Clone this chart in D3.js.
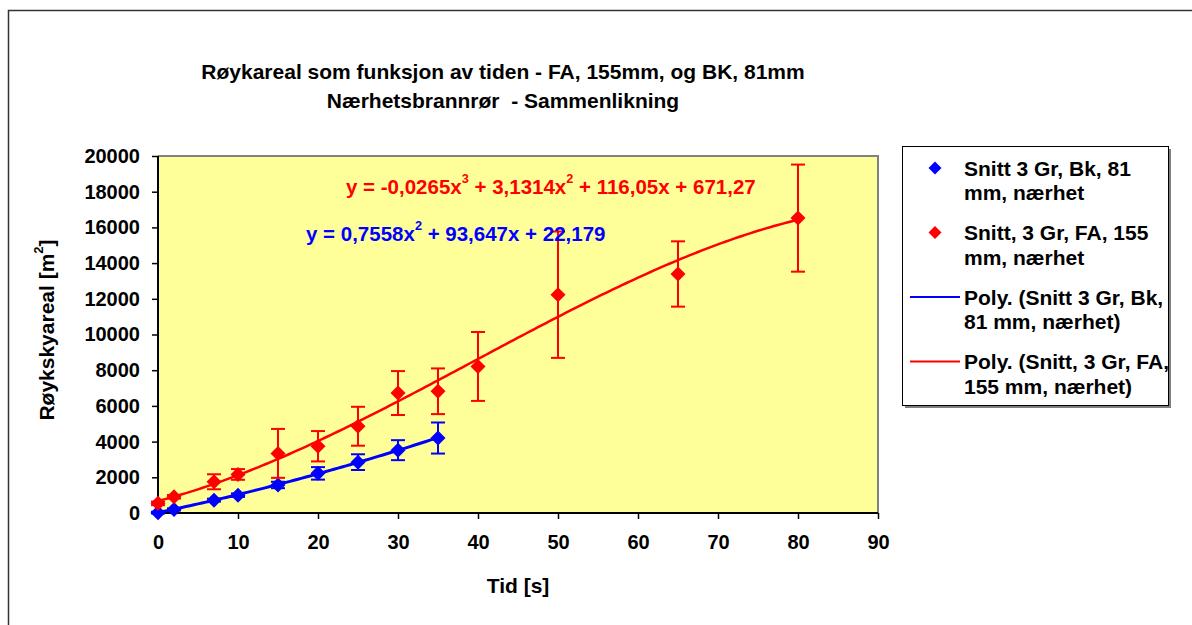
<!DOCTYPE html>
<html>
<head>
<meta charset="utf-8">
<script src="https://cdn.jsdelivr.net/npm/d3@7"></script>
<style>
  html, body { margin: 0; padding: 0; background: #fff; }
  svg { display: block; font-family: "Liberation Sans", Arial, sans-serif; font-weight: bold; }
</style>
</head>
<body>
<svg id="chart" width="1192" height="625"></svg>
<script>
// Time axis samples [s] and mean smoke area [m²] with spread, BK 81 mm
const timeBk = [0, 2, 7, 10, 15, 20, 25, 30, 35];
const areaBk = [20, 200, 720, 1000, 1570, 2220, 2850, 3520, 4200];
const errBk  = [50, 60, 80, 100, 180, 350, 440, 560, 870];

// FA 155 mm
const timeFa = [0, 2, 7, 10, 15, 20, 25, 30, 35, 40, 50, 65, 80];
const areaFa = [540, 910, 1750, 2160, 3340, 3740, 4860, 6720, 6820, 8210, 12230, 13390, 16520];
const errFa  = [100, 100, 420, 300, 1370, 850, 1090, 1230, 1280, 1930, 3540, 1830, 3000];

// Polynomial trend coefficients, ascending powers (c0 + c1 x + c2 x² + c3 x³)
const fitBk = [22.179, 93.647, 0.7558];
const fitFa = [671.27, 116.05, 3.1314, -0.0265];

const xTicks = [0, 10, 20, 30, 40, 50, 60, 70, 80, 90];
const yTicks = [0, 2000, 4000, 6000, 8000, 10000, 12000, 14000, 16000, 18000, 20000];

const titleLines = ["Røykareal som funksjon av tiden - FA, 155mm, og BK, 81mm",
                    "Nærhetsbrannrør  - Sammenlikning"];
const legendLabels = [
  ["Snitt 3 Gr, Bk, 81", "mm, nærhet"],
  ["Snitt, 3 Gr, FA, 155", "mm, nærhet"],
  ["Poly. (Snitt 3 Gr, Bk,", "81 mm, nærhet)"],
  ["Poly. (Snitt, 3 Gr, FA,", "155 mm, nærhet)"]
];

const BLUE = "#0000FF", RED = "#FF0000";
const FS = 21, FS_TICK = 20, FS_EQ = 20.5;

const svg = d3.select("#chart");

// chart frame
svg.append("path").attr("d", "M8.5,630V10.5H1200")
  .attr("fill", "none").attr("stroke", "#333").attr("stroke-width", 1.5);

const x = d3.scaleLinear().domain([0, 90]).range([158, 878]);
const y = d3.scaleLinear().domain([0, 20000]).range([513, 156]);

// plot area
svg.append("rect")
  .attr("x", x(0)).attr("y", y(20000))
  .attr("width", x(90) - x(0)).attr("height", y(0) - y(20000))
  .attr("fill", "#FFFF99");
svg.append("path")
  .attr("d", `M${x(0)},${y(20000)}H${x(90)}V${y(0)}`)
  .attr("fill", "none").attr("stroke", "#808080").attr("stroke-width", 2);

// axes
const yAxis = svg.append("g").attr("transform", `translate(${x(0)},0)`)
  .call(d3.axisLeft(y).tickValues(yTicks).tickSize(6).tickPadding(12).tickFormat(d => String(d)));
const xAxis = svg.append("g").attr("transform", `translate(0,${y(0)})`)
  .call(d3.axisBottom(x).tickValues(xTicks).tickSize(6).tickPadding(16).tickFormat(d => String(d)));
[yAxis, xAxis].forEach(g => {
  g.select(".domain").attr("stroke", "#000").attr("stroke-width", 2);
  g.selectAll(".tick line").attr("stroke", "#000").attr("stroke-width", 1.5);
  g.selectAll(".tick text").attr("fill", "#000").attr("font-size", FS_TICK)
    .attr("font-family", "Liberation Sans, Arial, sans-serif").attr("font-weight", "bold");
});
yAxis.select(".domain").attr("d", `M0,${y(0)}V${y(20000)}`);
xAxis.select(".domain").attr("d", `M${x(0)},0H${x(90)}`);

// axis titles
svg.append("text").attr("x", 518).attr("y", 585).attr("text-anchor", "middle")
  .attr("dominant-baseline", "central").attr("font-size", FS).text("Tid [s]");
const yt = svg.append("text")
  .attr("transform", "translate(46,330) rotate(-90)")
  .attr("text-anchor", "middle").attr("dominant-baseline", "central").attr("font-size", FS);
yt.append("tspan").text("Røykskyareal [m");
yt.append("tspan").attr("font-size", FS * 0.62).attr("dy", -8).text("2");
yt.append("tspan").attr("dy", 8).text("]");

// title
svg.selectAll("text.title").data(titleLines).join("text")
  .attr("class", "title")
  .attr("x", 503).attr("y", (d, i) => 71 + i * 29)
  .attr("text-anchor", "middle").attr("dominant-baseline", "central")
  .attr("font-size", FS).style("white-space", "pre")
  .text(d => d);

// polynomial trendlines
const poly = c => t => c.reduce((s, k, i) => s + k * Math.pow(t, i), 0);
const line = d3.line().x(d => x(d[0])).y(d => y(d[1]));
function trend(coef, t0, t1, color, w) {
  const f = poly(coef);
  const pts = d3.range(t0, t1 + 0.001, 0.5).map(t => [t, f(t)]);
  svg.append("path").attr("d", line(pts)).attr("fill", "none")
    .attr("stroke", color).attr("stroke-width", w);
}

const diamond = r => `M0,${-r}L${r},0L0,${r}L${-r},0Z`;

function series(ts, vs, es, color) {
  const g = svg.append("g");
  const rows = ts.map((t, i) => ({ t, v: vs[i], e: es[i] }));
  const eb = g.selectAll("g.eb").data(rows).join("g").attr("class", "eb")
    .attr("stroke", color).attr("stroke-width", 2);
  eb.append("line").attr("x1", d => x(d.t)).attr("x2", d => x(d.t))
    .attr("y1", d => y(d.v + d.e)).attr("y2", d => y(d.v - d.e));
  eb.append("line").attr("x1", d => x(d.t) - 7).attr("x2", d => x(d.t) + 7)
    .attr("y1", d => y(d.v + d.e)).attr("y2", d => y(d.v + d.e));
  eb.append("line").attr("x1", d => x(d.t) - 7).attr("x2", d => x(d.t) + 7)
    .attr("y1", d => y(d.v - d.e)).attr("y2", d => y(d.v - d.e));
  g.selectAll("path.m").data(rows).join("path").attr("class", "m")
    .attr("d", diamond(7.5)).attr("fill", color)
    .attr("transform", d => `translate(${x(d.t)},${y(d.v)})`);
}

series(timeBk, areaBk, errBk, BLUE);
series(timeFa, areaFa, errFa, RED);
trend(fitBk, 0, d3.max(timeBk), BLUE, 3);
trend(fitFa, 0, d3.max(timeFa), RED, 2.5);

// trend equations: plain strings and {exp: "n"} superscript parts
function equation(xp, yp, color, parts) {
  const t = svg.append("text").attr("x", xp).attr("y", yp).attr("fill", color)
    .attr("font-size", FS_EQ).attr("dominant-baseline", "central").style("white-space", "pre");
  let shift = 0;
  parts.forEach(p => {
    if (typeof p === "object") {
      t.append("tspan").attr("font-size", FS_EQ * 0.62).attr("dy", -8 - shift).text(p.exp);
      shift = -8;
    } else {
      t.append("tspan").attr("dy", -shift).text(p);
      shift = 0;
    }
  });
}
const fmt = v => String(v).replace(".", ",");
equation(346, 186, RED, [`y = ${fmt(fitFa[3])}x`, { exp: "3" }, ` + ${fmt(fitFa[2])}x`, { exp: "2" },
  ` + ${fmt(fitFa[1])}x + ${fmt(fitFa[0])}`]);
equation(306, 233, BLUE, [`y = ${fmt(fitBk[2])}x`, { exp: "2" }, ` + ${fmt(fitBk[1])}x + ${fmt(fitBk[0])}`]);

// legend
const lg = svg.append("g");
lg.append("rect").attr("x", 905).attr("y", 149).attr("width", 266).attr("height", 259).attr("fill", "#808080");
lg.append("rect").attr("x", 902.5).attr("y", 146.5).attr("width", 266).attr("height", 259)
  .attr("fill", "#fff").attr("stroke", "#000").attr("stroke-width", 1);
const items = lg.selectAll("g.item").data(legendLabels).join("g").attr("class", "item")
  .attr("transform", (d, i) => `translate(0,${168 + i * 64.5})`);
items.each(function (d, i) {
  const g = d3.select(this);
  const color = i % 2 === 0 ? BLUE : RED;
  if (i < 2) g.append("path").attr("d", diamond(6.5)).attr("fill", color).attr("transform", "translate(935,0)");
  else g.append("line").attr("x1", 910).attr("x2", 960).attr("stroke", color).attr("stroke-width", 2);
  g.selectAll("text").data(d).join("text").attr("x", 964).attr("y", (s, j) => j * 24.5)
    .attr("dominant-baseline", "central").attr("font-size", FS).text(s => s);
});
</script>
</body>
</html>
